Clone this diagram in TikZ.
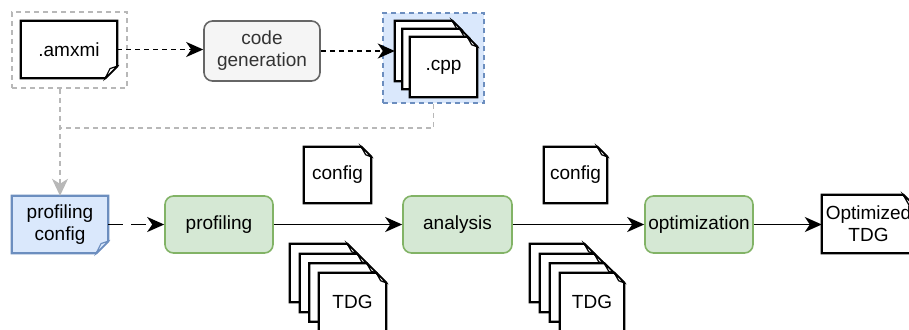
\documentclass[tikz,border=0pt]{standalone}
\usepackage{fontspec}
\setmainfont{Liberation Sans}
\usetikzlibrary{arrows.meta}

\pgfdeclarelayer{back}
\pgfdeclarelayer{bg}
\pgfsetlayers{back,bg,main}

\definecolor{blueFill}{HTML}{DAE8FC}
\definecolor{blueLine}{HTML}{6C8EBF}
\definecolor{greenFill}{HTML}{D5E8D4}
\definecolor{greenLine}{HTML}{82B366}
\definecolor{grayFill}{HTML}{F5F5F5}
\definecolor{grayLine}{HTML}{666666}
\definecolor{grayText}{HTML}{333333}
\definecolor{frameGray}{HTML}{B8B8B8}

\tikzset{
  every node/.style={font=\fontsize{19}{22}\selectfont, align=center, inner sep=0pt},
  docn/.style={minimum height=57pt},
  docline/.style={line width=2.3pt, line join=miter},
  foldline/.style={line width=1.2pt, line join=miter},
  stepbox/.style={rounded corners=8.5pt, line width=1.6pt, minimum height=57pt},
  greenbox/.style={stepbox, draw=greenLine, fill=greenFill},
  genbox/.style={stepbox, draw=grayLine, fill=grayFill, text=grayText},
  grayframe/.style={draw=frameGray, line width=1.6pt, dash pattern=on 5pt off 4pt},
  blueframe/.style={draw=blueLine, fill=blueFill, line width=1.6pt, dash pattern=on 5pt off 4pt},
  tip/.style={-{Stealth[length=17pt, width=15pt, inset=5pt]}},
  flow/.style={tip, line width=1.8pt},
  dflow/.style={flow, dash pattern=on 5pt off 4pt},
  ldflow/.style={flow, dash pattern=on 15pt off 8pt},
  gflow/.style={draw=frameGray, line width=1.6pt, dash pattern=on 5pt off 4pt},
}

% document outline with the corner folded at the top right
\newcommand\docTR[4]{%
  \begin{pgfonlayer}{bg}
    \draw[docline, draw=#4, fill=#3]
      (#1.north west) -- ([xshift=-#2]#1.north east) -- ([yshift=-#2]#1.north east)
      -- (#1.south east) -- (#1.south west) -- cycle;
    \draw[foldline, draw=#4, fill=#3]
      ([xshift=-#2]#1.north east) -- ([xshift={-0.55*#2}, yshift={-0.8*#2}]#1.north east)
      -- ([yshift=-#2]#1.north east) -- cycle;
  \end{pgfonlayer}}

% document outline with the corner folded at the bottom right
\newcommand\docBR[4]{%
  \begin{pgfonlayer}{bg}
    \draw[docline, draw=#4, fill=#3]
      (#1.north west) -- (#1.north east) -- ([yshift=#2]#1.south east)
      -- ([xshift=-#2]#1.south east) -- (#1.south west) -- cycle;
    \draw[foldline, draw=#4, fill=#3]
      ([xshift=-#2]#1.south east) -- ([xshift={-0.6*#2}, yshift={0.8*#2}]#1.south east)
      -- ([yshift=#2]#1.south east) -- cycle;
  \end{pgfonlayer}}

\begin{document}
\begin{tikzpicture}[x=1pt, y=-1pt]
\useasboundingbox (0,0) rectangle (909,329);

% ---------- model and generated sources ----------
\begin{pgfonlayer}{back}
  \node[grayframe, minimum width=115pt, minimum height=76pt] (gframe) at (69.5,50) {};
  \node[blueframe, minimum width=101pt, minimum height=90pt] (bframe) at (433.5,58) {};
\end{pgfonlayer}

\node[docn, minimum width=96pt] (amxmi) at (69,49.5) {.amxmi};
\docBR{amxmi}{12pt}{white}{black}

\node[genbox, minimum width=116pt, minimum height=60pt] (cg) at (262,51) {code\\generation};

\node[docn, minimum width=67pt, minimum height=60pt] (cppA) at (428.5,51) {};
\node[docn, minimum width=67pt, minimum height=60pt] (cppB) at (436,59) {};
\node[docn, minimum width=67pt, minimum height=60pt] (cppC) at (443.5,67) {.cpp};
\docTR{cppA}{10pt}{white}{black}
\docTR{cppB}{10pt}{white}{black}
\docTR{cppC}{10pt}{white}{black}

\draw[dflow] (amxmi.east) -- (amxmi.east -| cg.west);
\draw[dflow] (cg.east) -- (cg.east -| cppA.west);

% ---------- pipeline ----------
\node[docn, minimum width=96pt] (pconf) at (60,224.5) {profiling\\config};
\docBR{pconf}{12pt}{blueFill}{blueLine}

\node[greenbox, minimum width=108pt] (prof) at (219,224.5) {profiling};
\node[greenbox, minimum width=109pt] (ana) at (457.5,224.5) {analysis};
\node[greenbox, minimum width=108pt] (opt) at (699,224.5) {optimization};

\node[docn, minimum width=93pt, minimum height=58pt] (otdg) at (868.5,224) {Optimized\\TDG};
\docTR{otdg}{12pt}{white}{black}

\node[docn, minimum width=67pt, minimum height=56pt] (cfgA) at (337.5,175) {config};
\node[docn, minimum width=63pt, minimum height=56pt] (cfgB) at (575.5,175) {config};
\docTR{cfgA}{10pt}{white}{black}
\docTR{cfgB}{10pt}{white}{black}

% profiling output traces
\node[docn, minimum width=67pt, minimum height=58pt] (tdgA1) at (323.5,273) {};
\node[docn, minimum width=67pt, minimum height=58pt] (tdgA2) at (333.5,283) {};
\node[docn, minimum width=67pt, minimum height=58pt] (tdgA3) at (343,292.5) {};
\node[docn, minimum width=67pt, minimum height=58pt] (tdgA4) at (352.5,302) {TDG};
\docTR{tdgA1}{10pt}{white}{black}
\docTR{tdgA2}{10pt}{white}{black}
\docTR{tdgA3}{10pt}{white}{black}
\docTR{tdgA4}{10pt}{white}{black}

% analysis output traces
\node[docn, minimum width=64pt, minimum height=58pt] (tdgB1) at (562,273) {};
\node[docn, minimum width=64pt, minimum height=58pt] (tdgB2) at (572,283) {};
\node[docn, minimum width=64pt, minimum height=58pt] (tdgB3) at (582,292.5) {};
\node[docn, minimum width=64pt, minimum height=58pt] (tdgB4) at (592,302) {TDG};
\docTR{tdgB1}{10pt}{white}{black}
\docTR{tdgB2}{10pt}{white}{black}
\docTR{tdgB3}{10pt}{white}{black}
\docTR{tdgB4}{10pt}{white}{black}

% ---------- connectors ----------
\coordinate (join) at (60,128);
\draw[gflow] (bframe.south) |- (join);
\draw[gflow, -{Stealth[length=17pt, width=16pt, inset=5pt, fill=frameGray]}]
  (gframe.south -| pconf.north) -- (pconf.north);

\draw[ldflow] (pconf.east) -- (prof.west);
\draw[flow] (prof.east) -- (ana.west);
\draw[flow] (ana.east) -- (opt.west);
\draw[flow] (opt.east) -- (opt.east -| otdg.west);

\end{tikzpicture}
\end{document}
